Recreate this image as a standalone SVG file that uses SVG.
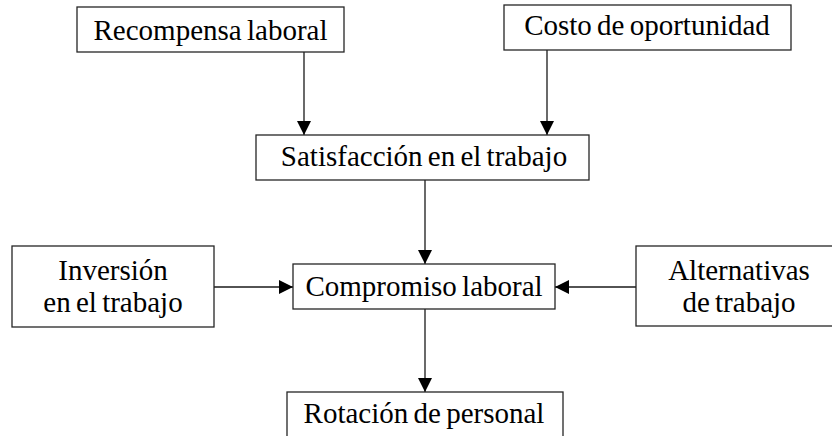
<svg xmlns="http://www.w3.org/2000/svg" width="832" height="436" viewBox="0 0 832 436">
  <style>
    .box { fill: #ffffff; stroke: #262626; stroke-width: 1.3; }
    .lbl { font-family: "Liberation Serif", "Times New Roman", serif; font-size: 29px; word-spacing: -2px; fill: #000000; text-anchor: middle; }
    .conn { stroke: #1a1a1a; stroke-width: 1.3; fill: none; marker-end: url(#arrow); }
  </style>
  <defs>
    <marker id="arrow" markerUnits="userSpaceOnUse" markerWidth="14" markerHeight="14" viewBox="0 0 14 14" refX="14" refY="7" orient="auto">
      <path d="M0,0 L14,7 L0,14 z" fill="#000000"/>
    </marker>
  </defs>
  <rect width="832" height="436" fill="#ffffff"/>
  <g id="connectors">
    <line class="conn" x1="304" y1="52" x2="304" y2="135"/>
    <line class="conn" x1="547" y1="50" x2="547" y2="135"/>
    <line class="conn" x1="425" y1="180" x2="425" y2="264"/>
    <line class="conn" x1="214" y1="287" x2="293" y2="287"/>
    <line class="conn" x1="636" y1="287" x2="555" y2="287"/>
    <line class="conn" x1="425" y1="309" x2="425" y2="392"/>
  </g>
  <g id="recompensa">
    <rect class="box" x="77" y="7" width="267" height="45"/>
    <text class="lbl" x="210.5" y="40">Recompensa laboral</text>
  </g>
  <g id="costo">
    <rect class="box" x="504" y="5" width="287" height="45"/>
    <text class="lbl" x="647" y="35">Costo de oportunidad</text>
  </g>
  <g id="satisfaccion">
    <rect class="box" x="256" y="135" width="333" height="45"/>
    <text class="lbl" x="424" y="166">Satisfacción en el trabajo</text>
  </g>
  <g id="compromiso">
    <rect class="box" x="293" y="264" width="262" height="45"/>
    <text class="lbl" x="424" y="296">Compromiso laboral</text>
  </g>
  <g id="inversion">
    <rect class="box" x="12" y="246" width="202" height="81"/>
    <text class="lbl" x="113" y="280">Inversión</text>
    <text class="lbl" x="113" y="312">en el trabajo</text>
  </g>
  <g id="alternativas">
    <rect class="box" x="636" y="246" width="206" height="80"/>
    <text class="lbl" x="739" y="280">Alternativas</text>
    <text class="lbl" x="739" y="312">de trabajo</text>
  </g>
  <g id="rotacion">
    <rect class="box" x="287" y="392" width="276" height="60"/>
    <text class="lbl" x="424" y="423">Rotación de personal</text>
  </g>
</svg>
